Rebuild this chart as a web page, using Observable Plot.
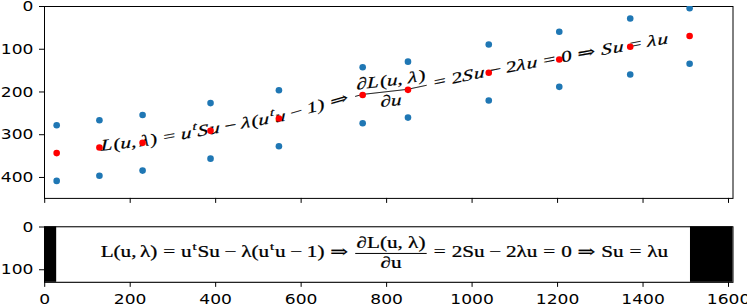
<!DOCTYPE html>
<html><head><meta charset="utf-8">
<script src="https://cdn.jsdelivr.net/npm/d3@7"></script>
<script src="https://cdn.jsdelivr.net/npm/@observablehq/plot@0.6"></script>
<style>
body{margin:0;background:#fff;}
#chart svg{display:block;overflow:visible;}
</style></head><body><div id="chart"></div>
<script>
// ---- data ----
const xPositions = [28, 128, 229, 388, 548, 744, 850, 1039, 1204, 1370, 1509];
const redY       = [343, 330, 319, 291, 262, 207, 195, 155, 124, 94, 69];
const blueUpperY = [278, 266, 254, 226, 196, 142, 129, 89, 59, 28, 4];
const blueLowerY = [408, 396, 384, 356, 327, 273, 260, 220, 188, 159, 134];
const xTicks = [0, 200, 400, 600, 800, 1000, 1200, 1400, 1600];
const topYTicks = [0, 100, 200, 300, 400];
const bottomYTicks = [0, 100];
const imageSize = [1611, 130];          // width, height of the rendered formula image
const imageWhiteSpan = [28, 1511];      // white area inside the black-bordered image
const topYLimit = [0, 449];
const eqSpan = [132, 1460];             // horizontal extent of the formula in image coords
const eqAxis = 63;                      // formula math axis in image coords
// formula tokens
const eqTokens = ["L(u,", "λ)", "=", "u", "^t", "Su", "−", "λ(u", "^t", "u", "−", "1)", "⇒",
  ["∂L(u, λ)", "∂u"], "=", "2Su", "−", "2λu", "=", "0", "⇒", "Su", "=", "λu"];

const W = 747;
const BLUE = "#1f77b4";
const FONT = "'Liberation Serif', 'DejaVu Serif', serif";
const tickStyle = {fontFamily: "'DejaVu Sans', sans-serif", fontSize: "14.5px", color: "black", background: "white"};
const fmt = d3.format("d");

const upper = xPositions.map((x, i) => ({x, y: blueUpperY[i]}));
const lower = xPositions.map((x, i) => ({x, y: blueLowerY[i]}));
const mid = xPositions.map((x, i) => ({x, y: redY[i]}));

const topSvg = Plot.plot({
  width: W, height: 212,
  marginLeft: 44, marginRight: 14.5, marginTop: 6, marginBottom: 14.1,
  style: tickStyle,
  x: {domain: [-0.5, imageSize[0] - 0.5], ticks: xTicks, tickFormat: () => "", tickSize: 5, label: null},
  y: {domain: topYLimit, reverse: true, ticks: topYTicks, tickFormat: fmt, tickSize: 5, tickPadding: 6, label: null},
  marks: [
    Plot.frame({stroke: "black"}),
    Plot.dot(upper, {x: "x", y: "y", r: 3.3, fill: BLUE, stroke: null, clip: true}),
    Plot.dot(lower, {x: "x", y: "y", r: 3.3, fill: BLUE, stroke: null, clip: true}),
    Plot.dot(mid, {x: "x", y: "y", r: 3.3, fill: "red", stroke: null, clip: true})
  ]
});

const imgRect = [{x1: -0.5, x2: imageSize[0] - 0.5, y1: -0.5, y2: imageSize[1] - 0.5}];
const whiteRect = [{x1: imageWhiteSpan[0], x2: imageWhiteSpan[1], y1: -0.5, y2: imageSize[1] - 0.5}];
const bottomSvg = Plot.plot({
  width: W, height: 95,
  marginLeft: 44, marginRight: 14.5, marginTop: 14.3, marginBottom: 25.14,
  style: tickStyle,
  x: {domain: [-0.5, imageSize[0] - 0.5], ticks: xTicks, tickFormat: fmt, tickSize: 5, tickPadding: 6, label: null},
  y: {domain: [-0.5, imageSize[1] - 0.5], reverse: true, ticks: bottomYTicks, tickFormat: fmt, tickSize: 5, tickPadding: 6, label: null},
  marks: [
    Plot.rect(imgRect, {x1: "x1", x2: "x2", y1: "y1", y2: "y2", fill: "black"}),
    Plot.rect(whiteRect, {x1: "x1", x2: "x2", y1: "y1", y2: "y2", fill: "white"}),
    Plot.frame({stroke: "black"})
  ]
});

const chart = document.getElementById("chart");
chart.append(topSvg, bottomSvg);

// stretch tick labels horizontally like the reference
function stretchTicks(svg, sx) {
  d3.select(svg).selectAll("text").each(function () {
    const t = this.getAttribute("transform") || "";
    this.setAttribute("transform", t + ` scale(${sx},1)`);
  });
}
stretchTicks(topSvg, 1.18);
stretchTicks(bottomSvg, 1.18);

function scaleFn(svg, name) {
  const s = svg.scale(name);
  if (s.apply) return v => s.apply(v);
  return d3.scaleLinear(s.domain, s.range);
}
const xT = scaleFn(topSvg, "x"), yT = scaleFn(topSvg, "y");
const xB = scaleFn(bottomSvg, "x"), yB = scaleFn(bottomSvg, "y");

// ---- formula layout (measured in the browser) ----
const fs = 16;
const ms = d3.select("body").append("svg").attr("width", 1).attr("height", 1)
  .style("position", "absolute").style("left", "-9999px");
const mt = ms.append("text").attr("font-family", FONT).attr("text-anchor", "start");
function measure(str, size) {
  mt.attr("font-size", size).text(str);
  const n = mt.node();
  const pos = [];
  for (let i = 0; i < str.length; i++) pos.push(n.getStartPositionOfChar(i).x);
  return {pos, width: n.getComputedTextLength()};
}
const REL = new Set(["=", "⇒"]), BIN = new Set(["−"]);
const isSup = t => typeof t === "string" && t.startsWith("^");
function gap(a, b) {
  if (isSup(a) || isSup(b)) return 0;
  if (REL.has(a) || REL.has(b)) return 0.278;
  if (BIN.has(a) || BIN.has(b)) return 0.222;
  if (typeof a === "string" && a.endsWith(",")) return 0.167;
  return 0;
}
const glyphs = [], bars = [];
let cur = 0;
eqTokens.forEach((tok, k) => {
  if (k > 0) cur += gap(eqTokens[k - 1], tok) * fs;
  if (Array.isArray(tok)) {
    const [num, den] = tok;
    const mn = measure(num, fs), md = measure(den, fs);
    const pad = 0.12 * fs, w = Math.max(mn.width, md.width);
    const nx = cur + pad + (w - mn.width) / 2, dx = cur + pad + (w - md.width) / 2;
    [...num].forEach((ch, i) => glyphs.push({ch, x: nx + mn.pos[i], y: -0.36 * fs, size: fs}));
    [...den].forEach((ch, i) => glyphs.push({ch, x: dx + md.pos[i], y: 0.92 * fs, size: fs}));
    bars.push({x1: cur + 0.06 * fs, x2: cur + w + 2 * pad - 0.06 * fs});
    cur += w + 2 * pad;
  } else if (isSup(tok)) {
    const s = tok.slice(1), size = 0.7 * fs, m = measure(s, size);
    cur += 0.04 * fs;
    [...s].forEach((ch, i) => glyphs.push({ch, x: cur + m.pos[i], y: -0.2 * fs, size}));
    cur += m.width + 0.04 * fs;
  } else {
    const m = measure(tok, fs);
    [...tok].forEach((ch, i) => glyphs.push({ch, x: cur + m.pos[i], y: 0.25 * fs, size: fs}));
    cur += m.width;
  }
});
const natW = cur;
ms.remove();

// ---- bottom: formula image ----
const bx0 = xB(eqSpan[0]), bx1 = xB(eqSpan[1]);
const sx = (bx1 - bx0) / natW;
const axB = yB(eqAxis);
const gB = d3.select(bottomSvg).append("g").attr("font-family", FONT).attr("fill", "black")
  .attr("stroke", "black").attr("stroke-width", 0.25).attr("text-anchor", "start");
glyphs.filter(g => g.ch !== " ").forEach(g => {
  gB.append("text").attr("font-size", g.size).attr("text-anchor", "start")
    .attr("transform", `translate(${bx0 + sx * g.x},${axB + g.y}) scale(${sx},1)`)
    .text(g.ch);
});
bars.forEach(b => {
  gB.append("line").attr("x1", bx0 + sx * b.x1).attr("x2", bx0 + sx * b.x2)
    .attr("y1", axB).attr("y2", axB).attr("stroke", "black").attr("stroke-width", 1);
});

// ---- top: formula warped along the red points ----
const PX = xPositions.map(v => xT(v)), PY = redY.map(v => yT(v));
function seg(px) {
  let i = 0;
  while (i < PX.length - 2 && px > PX[i + 1]) i++;
  return i;
}
function curve(px) {
  const i = seg(px);
  const t = (px - PX[i]) / (PX[i + 1] - PX[i]);
  return PY[i] + t * (PY[i + 1] - PY[i]);
}
function slope(px) {
  const i = seg(px);
  return (PY[i + 1] - PY[i]) / (PX[i + 1] - PX[i]);
}
const tx0 = xT(eqSpan[0]);
const gT = d3.select(topSvg).insert("g", 'g[aria-label="dot"]')
  .attr("font-family", FONT).attr("fill", "black").attr("stroke", "black").attr("stroke-width", 0.2)
  .attr("text-anchor", "start");
glyphs.filter(g => g.ch !== " ").forEach(g => {
  const gx = tx0 + sx * g.x;
  const ang = Math.atan(slope(gx)) * 180 / Math.PI;
  gT.append("text").attr("font-size", g.size).attr("text-anchor", "start")
    .attr("font-style", /[A-Za-zλ∂]/.test(g.ch) ? "italic" : "normal")
    .attr("transform", `translate(${gx},${curve(gx) + g.y}) skewY(${ang}) scale(${sx},1)`)
    .text(g.ch);
});
bars.forEach(b => {
  const a = tx0 + sx * b.x1, e = tx0 + sx * b.x2;
  const pts = d3.range(a, e, 1).concat([e]).map(x => [x, curve(x)]);
  gT.append("path").attr("d", d3.line()(pts)).attr("fill", "none").attr("stroke", "black").attr("stroke-width", 1);
});
</script></body></html>
